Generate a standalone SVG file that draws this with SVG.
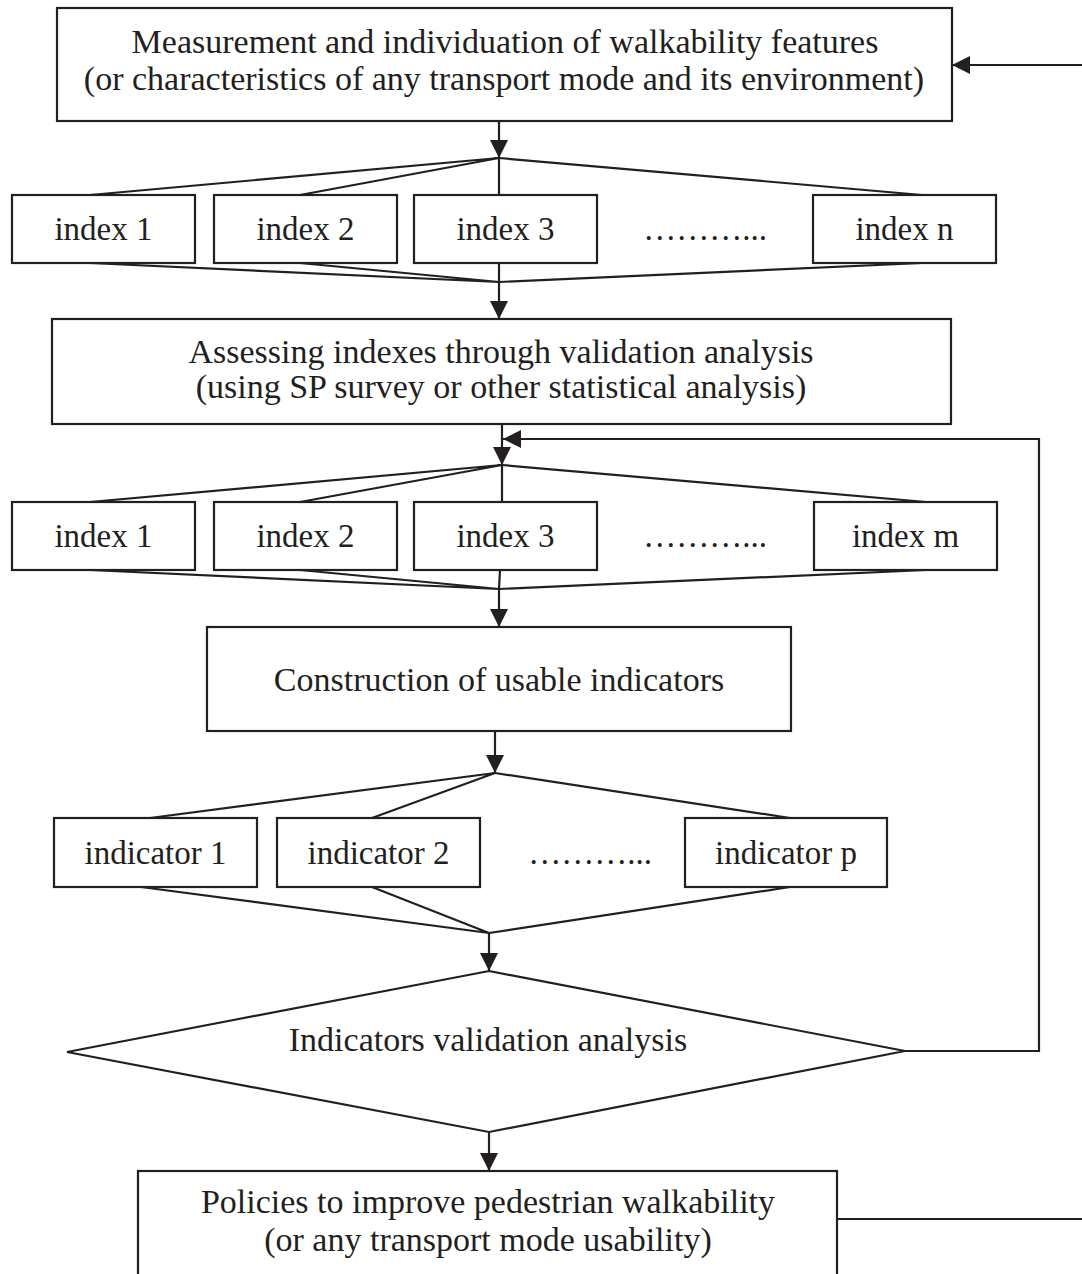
<svg xmlns="http://www.w3.org/2000/svg" width="1082" height="1274" viewBox="0 0 1082 1274">
<style>
.box{fill:#fff;stroke:#231f20;stroke-width:2.2}
.ln{fill:none;stroke:#231f20;stroke-width:2.2}
.t{font-family:"Liberation Serif","Times New Roman",serif;font-size:34px;fill:#231f20;text-anchor:middle}
.s{font-family:"Liberation Serif","Times New Roman",serif;font-size:33px;fill:#231f20;text-anchor:middle}
</style>
<defs>
<marker id="ah" markerUnits="userSpaceOnUse" markerWidth="18" markerHeight="18" refX="18" refY="9" orient="auto" viewBox="0 0 18 18">
<path d="M0,0 L18,9 L0,18 z" fill="#231f20"/>
</marker>
</defs>
<rect width="1082" height="1274" fill="#fff"/>

<g id="connectors">
<!-- top feedback in -->
<line class="ln" x1="1082" y1="65" x2="952" y2="65" marker-end="url(#ah)"/>
<!-- top box to fan 1 -->
<line class="ln" x1="499" y1="121" x2="499" y2="158" marker-end="url(#ah)"/>
<polyline class="ln" points="90,195 499,158 300,195"/>
<line class="ln" x1="499" y1="158" x2="499" y2="195"/>
<line class="ln" x1="499" y1="158" x2="922" y2="195"/>
<polyline class="ln" points="90,263 499,282 300,263"/>
<line class="ln" x1="499" y1="263" x2="499" y2="282"/>
<line class="ln" x1="922" y1="263" x2="499" y2="282"/>
<line class="ln" x1="499" y1="282" x2="499" y2="319" marker-end="url(#ah)"/>
<!-- assessing to fan 2 -->
<line class="ln" x1="502" y1="424" x2="502" y2="465" marker-end="url(#ah)"/>
<polyline class="ln" points="90,502 502,465 300,502"/>
<line class="ln" x1="502" y1="465" x2="502" y2="502"/>
<line class="ln" x1="502" y1="465" x2="926" y2="502"/>
<polyline class="ln" points="90,570 499,589 300,570"/>
<line class="ln" x1="500" y1="570" x2="499" y2="589"/>
<line class="ln" x1="926" y1="570" x2="499" y2="589"/>
<line class="ln" x1="499" y1="589" x2="499" y2="627" marker-end="url(#ah)"/>
<!-- construction to indicators -->
<line class="ln" x1="495" y1="731" x2="495" y2="773" marker-end="url(#ah)"/>
<polyline class="ln" points="150,818 495,773 372,818"/>
<line class="ln" x1="495" y1="773" x2="790" y2="818"/>
<polyline class="ln" points="141,887 489,933 372,887"/>
<line class="ln" x1="790" y1="887" x2="489" y2="933"/>
<line class="ln" x1="489" y1="933" x2="489" y2="971" marker-end="url(#ah)"/>
<!-- diamond to policies -->
<line class="ln" x1="489" y1="1132" x2="489" y2="1171" marker-end="url(#ah)"/>
<!-- validation feedback loop -->
<polyline class="ln" points="905,1051 1039,1051 1039,439 503,439" marker-end="url(#ah)"/>
<!-- policies out -->
<line class="ln" x1="837" y1="1219" x2="1082" y2="1219"/>
</g>

<g id="n-measure">
<rect class="box" x="57" y="8" width="895" height="113"/>
<text class="t" x="505" y="53">Measurement and individuation of walkability features</text>
<text class="t" x="504" y="90">(or characteristics of any transport mode and its environment)</text>
</g>

<g id="n-index1a"><rect class="box" x="12" y="195" width="183" height="68"/><text class="s" x="103.5" y="240">index 1</text></g>
<g id="n-index2a"><rect class="box" x="214" y="195" width="183" height="68"/><text class="s" x="305.5" y="240">index 2</text></g>
<g id="n-index3a"><rect class="box" x="414" y="195" width="183" height="68"/><text class="s" x="505.5" y="240">index 3</text></g>
<g id="n-dotsa"><text class="s" x="705" y="240">………...</text></g>
<g id="n-indexna"><rect class="box" x="813" y="195" width="183" height="68"/><text class="s" x="904.5" y="240">index n</text></g>

<g id="n-assess">
<rect class="box" x="52" y="319" width="899" height="105"/>
<text class="t" x="501" y="363">Assessing indexes through validation analysis</text>
<text class="t" x="501" y="398">(using SP survey or other statistical analysis)</text>
</g>

<g id="n-index1b"><rect class="box" x="12" y="502" width="183" height="68"/><text class="s" x="103.5" y="547">index 1</text></g>
<g id="n-index2b"><rect class="box" x="214" y="502" width="183" height="68"/><text class="s" x="305.5" y="547">index 2</text></g>
<g id="n-index3b"><rect class="box" x="414" y="502" width="183" height="68"/><text class="s" x="505.5" y="547">index 3</text></g>
<g id="n-dotsb"><text class="s" x="705" y="547">………...</text></g>
<g id="n-indexmb"><rect class="box" x="814" y="502" width="183" height="68"/><text class="s" x="905.5" y="547">index m</text></g>

<g id="n-construct">
<rect class="box" x="207" y="627" width="584" height="104"/>
<text class="t" x="499" y="691">Construction of usable indicators</text>
</g>

<g id="n-ind1"><rect class="box" x="54" y="818" width="203" height="69"/><text class="s" x="155.5" y="864">indicator 1</text></g>
<g id="n-ind2"><rect class="box" x="277" y="818" width="203" height="69"/><text class="s" x="378.5" y="864">indicator 2</text></g>
<g id="n-dotsc"><text class="s" x="590" y="864">………...</text></g>
<g id="n-indp"><rect class="box" x="685" y="818" width="202" height="69"/><text class="s" x="786" y="864">indicator p</text></g>

<g id="n-validation">
<polygon class="box" points="489,971 905,1051 489,1132 67,1052"/>
<text class="t" x="488" y="1051">Indicators validation analysis</text>
</g>

<g id="n-policies">
<rect class="box" x="138" y="1171" width="699" height="140"/>
<text class="t" x="488" y="1213">Policies to improve pedestrian walkability</text>
<text class="t" x="488" y="1251">(or any transport mode usability)</text>
</g>
</svg>
